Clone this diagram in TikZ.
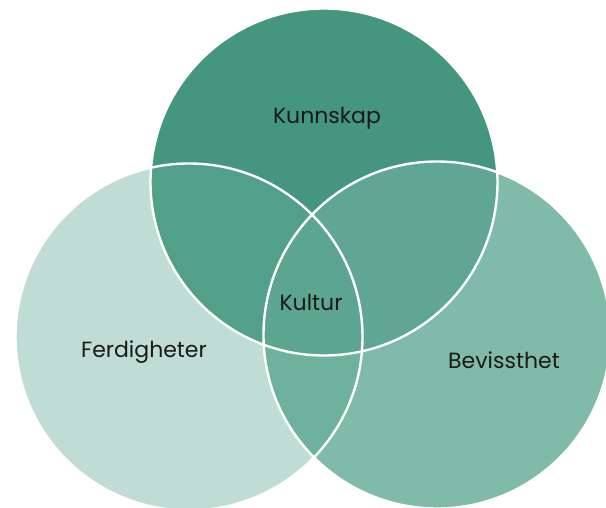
\documentclass[tikz,border=0pt]{standalone}
\usepackage{fontspec}
\setmainfont{Poppins}
\definecolor{ctop}{HTML}{44967E}
\definecolor{cleft}{HTML}{C0DDD5}
\definecolor{cright}{HTML}{80BBA9}
\definecolor{ctl}{HTML}{52A088}
\definecolor{ctr}{HTML}{5FA792}
\definecolor{clr}{HTML}{6EB29E}
\definecolor{call}{HTML}{5CA58F}
\definecolor{ctext}{HTML}{1A1A1A}
\begin{document}
\begin{tikzpicture}[x=1pt,y=-1pt,
  lbl/.style={text=ctext,font=\fontsize{22}{26}\selectfont,inner sep=0pt},
  rim/.style={draw=white,line width=2.4pt}]
\useasboundingbox (0,0) rectangle (606,508);
\fill[white] (0,0) rectangle (606,508);
\def\R{173.5}
\coordinate (T) at (324,182);
\coordinate (L) at (189,337);
\coordinate (Q) at (437,335);
\fill[ctop] (T) circle[radius=\R];
\fill[cleft] (L) circle[radius=\R];
\fill[cright] (Q) circle[radius=\R];
\begin{scope}
  \clip (T) circle[radius=\R];
  \fill[ctl] (L) circle[radius=\R];
  \fill[ctr] (Q) circle[radius=\R];
\end{scope}
\begin{scope}
  \clip (L) circle[radius=\R];
  \fill[clr] (Q) circle[radius=\R];
\end{scope}
\begin{scope}
  \clip (T) circle[radius=\R];
  \clip (L) circle[radius=\R];
  \fill[call] (Q) circle[radius=\R];
\end{scope}
\draw[rim] (T) circle[radius=\R];
\draw[rim] (L) circle[radius=\R];
\draw[rim] (Q) circle[radius=\R];
\node[lbl] (kunnskap) at (327,118) {Kunnskap};
\node[lbl] (kultur) at (311,302) {Kultur};
\node[lbl] (ferdigheter) at (144,352) {Ferdigheter};
\node[lbl] (bevissthet) at (504,360) {Bevissthet};
\end{tikzpicture}
\end{document}
